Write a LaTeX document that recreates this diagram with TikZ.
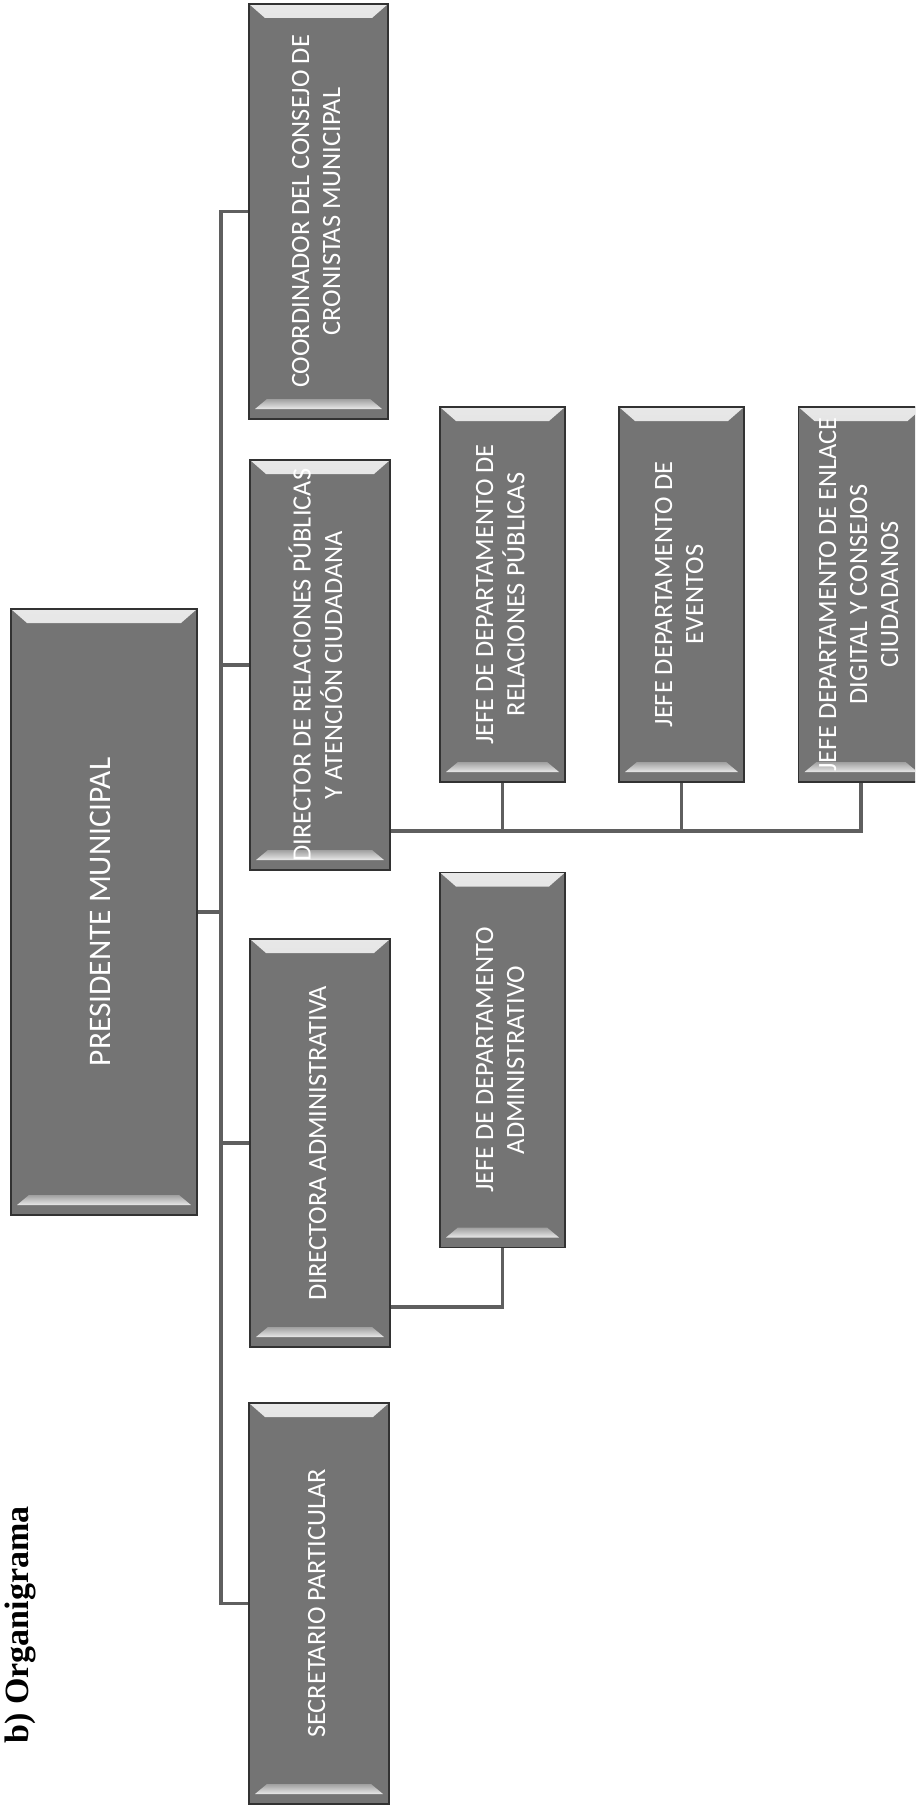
\documentclass[tikz,border=0pt]{standalone}
\usepackage{fontspec}
\usepackage{graphicx}
\newfontfamily\boxfont{Carlito}
\newfontfamily\titlefont{Liberation Serif}
\usetikzlibrary{calc}
\definecolor{boxgray}{RGB}{116,116,116}
\definecolor{boxedge}{RGB}{50,50,50}
\definecolor{bevlight}{RGB}{232,232,232}
\definecolor{bevmid}{RGB}{160,160,160}
\definecolor{linegray}{RGB}{95,95,95}
\newcommand\boxlabel[2][13.2]{\rotatebox{90}{\boxfont\fontsize{#1}{15.5}\selectfont\begin{tabular}{@{}c@{}}#2\end{tabular}}}
\begin{document}
\begin{tikzpicture}[x=0.5pt,y=-0.5pt,
  orgbox/.style={rectangle, draw=boxedge, line width=0.7pt, fill=boxgray,
    inner sep=0pt, text=white,
    path picture={
      \shade[top color=bevlight, bottom color=bevmid]
        (path picture bounding box.north west) -- (path picture bounding box.north east)
        -- ([xshift=-8pt,yshift=-7pt]path picture bounding box.north east)
        -- ([xshift=8pt,yshift=-7pt]path picture bounding box.north west) -- cycle;
      \shade[top color=bevmid, bottom color=bevlight]
        ([xshift=9pt,yshift=10pt]path picture bounding box.south west)
        -- ([xshift=-9pt,yshift=10pt]path picture bounding box.south east)
        -- ([xshift=-3pt,yshift=5pt]path picture bounding box.south east)
        -- ([xshift=3pt,yshift=5pt]path picture bounding box.south west) -- cycle;
    }},
  jefe/.style={minimum width=62.5pt, minimum height=187.5pt},
  conn/.style={draw=linegray, line width=1.7pt, line join=miter},
  titlest/.style={font=\titlefont\bfseries\fontsize{17}{20}\selectfont, rotate=90, inner sep=0pt}]
\useasboundingbox (0,0) rectangle (915,1813);
\clip (0,0) rectangle (915,1813);
\fill[white] (0,0) rectangle (915,1813);

\node[titlest] (title) at (20,1625) {b) Organigrama};

\node[orgbox, minimum width=93pt, minimum height=303pt] (pres) at (104,912) {\boxlabel[15.7]{PRESIDENTE MUNICIPAL}};
\node[orgbox, minimum width=69.5pt, minimum height=207.5pt] (coord) at (318.5,211.5) {\boxlabel{COORDINADOR DEL CONSEJO DE\\CRONISTAS MUNICIPAL}};
\node[orgbox, minimum width=70pt, minimum height=205pt] (dirrp) at (320,665) {\boxlabel{DIRECTOR DE RELACIONES PÚBLICAS\\Y ATENCIÓN CIUDADANA}};
\node[orgbox, minimum width=70pt, minimum height=204pt] (diradm) at (320,1143) {\boxlabel{DIRECTORA ADMINISTRATIVA}};
\node[orgbox, minimum width=70pt, minimum height=200.5pt] (secr) at (319,1603.5) {\boxlabel{SECRETARIO PARTICULAR}};
\node[orgbox, jefe] (jrp) at (502.5,594.5) {\boxlabel{JEFE DE DEPARTAMENTO DE\\RELACIONES PÚBLICAS}};
\node[orgbox, jefe] (jev) at (681.5,594.5) {\boxlabel{JEFE DEPARTAMENTO DE\\EVENTOS}};
\node[orgbox, jefe] (jen) at (861,594.5) {\boxlabel{JEFE DEPARTAMENTO DE ENLACE\\DIGITAL Y CONSEJOS\\CIUDADANOS}};
\node[orgbox, jefe] (jadm) at (502.5,1060) {\boxlabel{JEFE DE DEPARTAMENTO\\ADMINISTRATIVO}};

\coordinate (t) at (221,0);
\coordinate (hb) at (0,831);
\coordinate (ha) at (0,1307);
\draw[conn] (coord.west) -- (coord.west -| t) -- (secr.west -| t) -- (secr.west);
\draw[conn] (pres.east) -- (pres.east -| t);
\draw[conn] (dirrp.west) -- (dirrp.west -| t);
\draw[conn] (diradm.west) -- (diradm.west -| t);
\draw[conn] (dirrp.east |- hb) -- (jen.south |- hb) -- (jen.south);
\draw[conn] (jrp.south) -- (jrp.south |- hb);
\draw[conn] (jev.south) -- (jev.south |- hb);
\draw[conn] (diradm.east |- ha) -- (jadm.south |- ha) -- (jadm.south);
\end{tikzpicture}
\end{document}
